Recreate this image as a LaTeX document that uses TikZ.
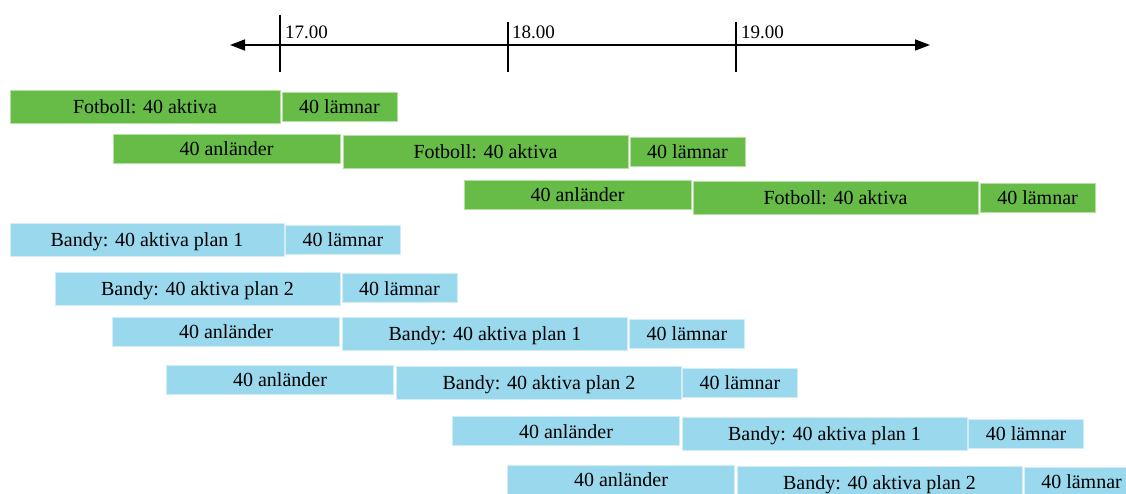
\documentclass[tikz,border=0pt]{standalone}
\usepackage{fontspec}
\setmainfont{Liberation Serif}
\usetikzlibrary{arrows.meta}

\definecolor{fotgreen}{RGB}{103,188,72}
\definecolor{fotedge}{RGB}{180,224,162}
\definecolor{banblue}{RGB}{154,216,238}
\definecolor{banedge}{RGB}{208,237,248}

\begin{document}
\begin{tikzpicture}[x=1pt, y=-1pt,
        bar/.style={inner sep=0pt, line width=0.6pt, text height=14pt, text depth=0pt,
            font=\fontsize{20}{21}\selectfont},
        fot/.style={bar, fill=fotgreen, draw=fotedge},
        ban/.style={bar, fill=banblue, draw=banedge},
        aktiv/.style={minimum width=285pt, minimum height=33pt},
        ank/.style={minimum width=227pt, minimum height=29pt},
        lamn/.style={minimum width=115pt, minimum height=29pt},
        klocka/.style={inner sep=0pt, anchor=base west, font=\fontsize{19}{20}\selectfont}]
        \useasboundingbox (0,0) rectangle (1126,494);

        % tidslinje
        \coordinate (vstart) at (230,45);
        \coordinate (hslut) at (930,45);
        \draw[line width=1.5pt, {Triangle[length=15pt,width=11pt]}-{Triangle[length=15pt,width=11pt]}] (vstart) -- (hslut);

        \coordinate (s17a) at (280,15);
        \coordinate (s17b) at (280,72);
        \coordinate (s18a) at (508,22);
        \coordinate (s18b) at (508,72);
        \coordinate (s19a) at (736,22);
        \coordinate (s19b) at (736,72);
        \draw[line width=1.5pt] (s17a) -- (s17b);
        \draw[line width=1.5pt] (s18a) -- (s18b);
        \draw[line width=1.5pt] (s19a) -- (s19b);

        \node[klocka] (k17) at (285,38.5) {17.00};
        \node[klocka] (k18) at (512,38.5) {18.00};
        \node[klocka] (k19) at (741,38.5) {19.00};

        % fotboll
        \node[fot, aktiv, minimum width=270pt] (fa1) at (145,106.5) {Fotboll: 40 aktiva};
        \node[fot, lamn] (fl1) at (339.5,106.5) {40 lämnar};

        \node[fot, ank] (fn2) at (226.5,148.5) {40 anländer};
        \node[fot, aktiv] (fa2) at (485.5,151.5) {Fotboll: 40 aktiva};
        \node[fot, lamn] (fl2) at (687.5,151.5) {40 lämnar};

        \node[fot, ank] (fn3) at (577.5,195) {40 anländer};
        \node[fot, aktiv] (fa3) at (835.5,198) {Fotboll: 40 aktiva};
        \node[fot, lamn] (fl3) at (1037.5,197.5) {40 lämnar};

        % bandy
        \node[ban, aktiv, minimum width=274pt] (ba4) at (147,239.5) {Bandy: 40 aktiva plan 1};
        \node[ban, lamn] (bl4) at (343,239.5) {40 lämnar};

        \node[ban, aktiv] (ba5) at (197.5,288.5) {Bandy: 40 aktiva plan 2};
        \node[ban, lamn] (bl5) at (399.5,288) {40 lämnar};

        \node[ban, ank] (bn6) at (226,331.5) {40 anländer};
        \node[ban, aktiv] (ba6) at (485,333.5) {Bandy: 40 aktiva plan 1};
        \node[ban, lamn] (bl6) at (687,333.5) {40 lämnar};

        \node[ban, ank] (bn7) at (280,379.5) {40 anländer};
        \node[ban, aktiv] (ba7) at (539,382.5) {Bandy: 40 aktiva plan 2};
        \node[ban, lamn] (bl7) at (740,382.5) {40 lämnar};

        \node[ban, ank] (bn8) at (566,431) {40 anländer};
        \node[ban, aktiv] (ba8) at (824.5,433.5) {Bandy: 40 aktiva plan 1};
        \node[ban, lamn] (bl8) at (1026,433.5) {40 lämnar};

        \node[ban, ank] (bn9) at (621,479.5) {40 anländer};
        \node[ban, aktiv] (ba9) at (879.5,482.5) {Bandy: 40 aktiva plan 2};
        \node[ban, lamn] (bl9) at (1081.5,481.5) {40 lämnar};
    \end{tikzpicture}
\end{document}
